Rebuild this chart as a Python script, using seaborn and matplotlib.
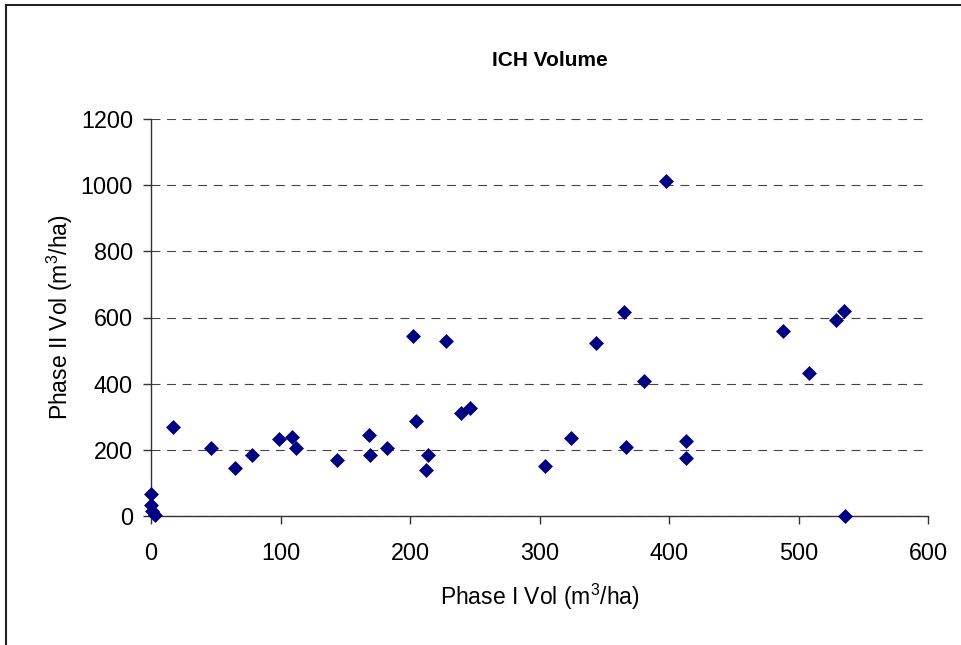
import numpy as np
import pandas as pd
import matplotlib
matplotlib.use("Agg")
import matplotlib.pyplot as plt
from matplotlib.patches import Rectangle
import seaborn as sns

# values
phase1_vol = [0, 0, 1, 3, 17, 46, 65, 78, 99, 109, 112, 144, 168, 169, 182,
              205, 212, 214, 239, 246, 202, 228, 304, 324, 344, 365, 367, 381,
              413, 413, 488, 508, 529, 535, 536, 398]
phase2_vol = [68, 33, 15, 3, 268, 205, 144, 184, 234, 240, 207, 170, 244, 184, 205,
              287, 140, 185, 310, 327, 544, 529, 152, 236, 522, 617, 208, 409,
              228, 175, 559, 431, 592, 620, 0, 1013]
x_ticks = [0, 100, 200, 300, 400, 500, 600]
y_ticks = [0, 200, 400, 600, 800, 1000, 1200]

df = pd.DataFrame({"phase1": phase1_vol, "phase2": phase2_vol})

sns.set_theme(style="white")
plt.rcParams["font.family"] = ["Liberation Sans", "DejaVu Sans"]
plt.rcParams["mathtext.fontset"] = "custom"
plt.rcParams["mathtext.rm"] = "Liberation Sans"
plt.rcParams["mathtext.it"] = "Liberation Sans"
plt.rcParams["text.color"] = "black"
plt.rcParams["axes.labelcolor"] = "black"
plt.rcParams["xtick.color"] = "black"
plt.rcParams["ytick.color"] = "black"

fig = plt.figure(figsize=(9.62, 6.45), dpi=100)
ax = fig.add_axes([151 / 962, 1 - 516 / 645, 777 / 962, 397 / 645])

sns.scatterplot(data=df, x="phase1", y="phase2", ax=ax, marker="D",
                color="#000080", s=58, linewidth=0, clip_on=False, zorder=5)

ax.set_xlim(0, 600)
ax.set_ylim(0, 1200)
ax.set_xticks(x_ticks)
ax.set_yticks(y_ticks)

# dashed horizontal grid
ax.yaxis.grid(True, color="#444444", linewidth=0.8)
ax.xaxis.grid(False)
for gl in ax.get_ygridlines():
    gl.set_dashes([8, 6])
ax.set_axisbelow(True)

for side in ["top", "right"]:
    ax.spines[side].set_visible(False)
for side in ["left", "bottom"]:
    ax.spines[side].set_color("#333333")
    ax.spines[side].set_linewidth(1.0)

ax.tick_params(axis="x", direction="out", length=6, width=1, color="#333333",
               labelcolor="black", pad=13, labelsize=16.8, bottom=True)
ax.tick_params(axis="y", direction="out", length=6, width=1, color="#333333",
               labelcolor="black", pad=7, labelsize=16.8, left=True)

ax.set_xlabel(r"Phase I Vol (m$^3$/ha)", fontsize=16.5, color="black")
ax.set_ylabel(r"Phase II Vol (m$^3$/ha)", fontsize=16.5, color="black")
ax.xaxis.set_label_coords(0.5, (516 - 597) / 397)
ax.xaxis.label.set_va("center")
ax.yaxis.set_label_coords((60 - 151) / 777, 0.5)
ax.yaxis.label.set_va("center")

fig.text(550 / 962, 1 - 60 / 645, "ICH Volume", ha="center", va="center",
         fontsize=15, fontweight="bold", color="black")

# chart-area frame (right and bottom edges fall outside the picture)
fig.add_artist(Rectangle((6 / 962, -0.1), 1.2, 1.1 - 5 / 645, fill=False,
                         edgecolor="#222222", linewidth=1.5,
                         transform=fig.transFigure))

fig.savefig("out.png", dpi=100)
